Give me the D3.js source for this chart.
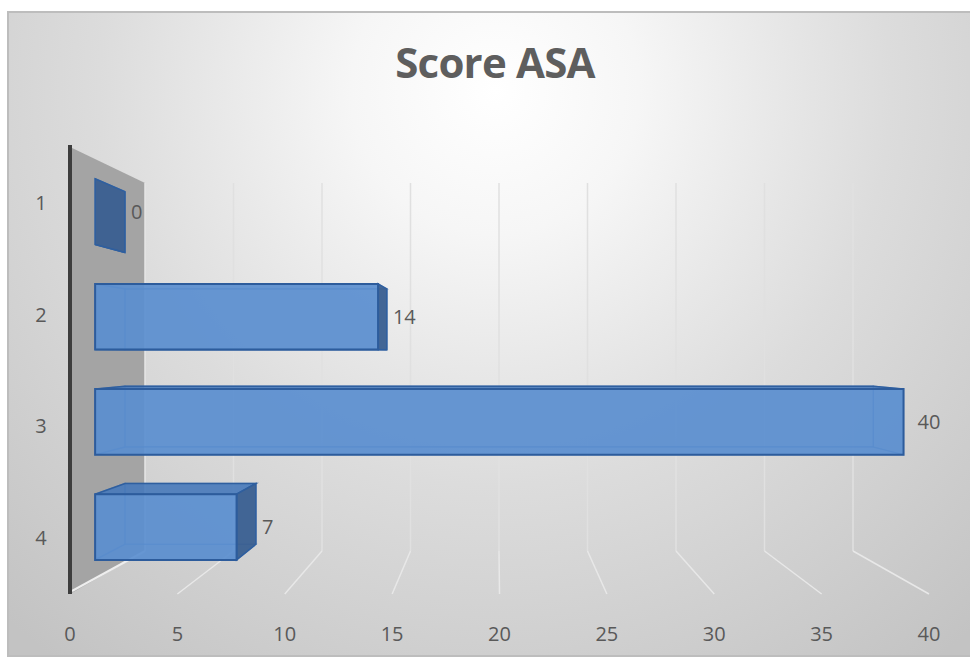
<!DOCTYPE html>
<html>
<head>
<meta charset="utf-8">
<script src="https://cdn.jsdelivr.net/npm/d3@7"></script>
<style>
  html, body { margin: 0; padding: 0; background: #ffffff; }
  svg { display: block; }
  text { font-family: "Open Sans", "Liberation Sans", sans-serif; }
</style>
</head>
<body>
<svg id="chart" width="970" height="658"></svg>
<script>
// ---- data ----
const title = "Score ASA";
const categories = ["1", "2", "3", "4"];
const values = [0, 14, 40, 7];
const valueTicks = [0, 5, 10, 15, 20, 25, 30, 35, 40];
const valueMax = 40;

const svg = d3.select("#chart");
const W = 970, H = 658;

// background gradient
const defs = svg.append("defs");
const rg = defs.append("radialGradient").attr("id", "bg")
  .attr("gradientUnits", "userSpaceOnUse")
  .attr("cx", 495).attr("cy", 90).attr("r", 720);
rg.append("stop").attr("offset", "0%").attr("stop-color", "#ffffff");
rg.append("stop").attr("offset", "20%").attr("stop-color", "#f6f6f6");
rg.append("stop").attr("offset", "55%").attr("stop-color", "#dcdcdc");
rg.append("stop").attr("offset", "100%").attr("stop-color", "#c3c3c3");

svg.append("rect").attr("x", 0).attr("y", 0).attr("width", W).attr("height", H).attr("fill", "#ffffff");
svg.append("rect").attr("x", 8).attr("y", 12).attr("width", 972).attr("height", 644)
  .attr("fill", "url(#bg)").attr("stroke", "#bdbdbd").attr("stroke-width", 2);

// title
svg.append("text").attr("x", 495).attr("y", 78).attr("text-anchor", "middle")
  .attr("font-size", 42).attr("font-weight", "bold").attr("fill", "#5e5e5e")
  .attr("letter-spacing", -0.8)
  .text(title);

// ---- 3D projection: front plane (t=0) and back plane (t=1) ----
const xFront = d3.scaleLinear().domain([0, valueMax]).range([70, 929]);
const xBack = d3.scaleLinear().domain([0, valueMax]).range([145, 853]);
const yFront = d3.scaleLinear().domain([0, 1]).range([147, 594]);
const yBack = d3.scaleLinear().domain([0, 1]).range([183, 551]);
const band = d3.scaleBand().domain(categories).range([0, 1])
  .paddingInner(0.375).paddingOuter(0.1875);
const P = (v, c, t) => [
  xFront(v) + (xBack(v) - xFront(v)) * t,
  yFront(c) + (yBack(c) - yFront(c)) * t
];
const poly = pts => "M" + pts.map(p => p.join(",")).join("L") + "Z";

// left side wall
svg.append("path")
  .attr("d", poly([P(0, 0, 0), P(0, 0, 1), P(0, 1, 1), P(0, 1, 0)]))
  .attr("fill", "#a4a4a4");
svg.append("line")
  .attr("x1", P(0, 0, 1)[0]).attr("y1", P(0, 0, 1)[1])
  .attr("x2", P(0, 1, 1)[0]).attr("y2", P(0, 1, 1)[1])
  .attr("stroke", "#e6e6e6").attr("stroke-width", 1.5);
svg.append("line")
  .attr("x1", P(0, 1, 1)[0]).attr("y1", P(0, 1, 1)[1])
  .attr("x2", P(0, 1, 0)[0] + 2).attr("y2", P(0, 1, 0)[1] - 3)
  .attr("stroke", "#eeeeee").attr("stroke-width", 2);

// back wall gridlines and floor gridlines
const grid = svg.append("g");
valueTicks.filter(v => v > 0).forEach(v => {
  const a = P(v, 0, 1), b = P(v, 1, 1), c = P(v, 1, 0);
  grid.append("line").attr("x1", a[0]).attr("y1", a[1]).attr("x2", b[0]).attr("y2", b[1])
    .attr("stroke", "#e0e0e0").attr("stroke-width", 1.5);
  grid.append("line").attr("x1", b[0]).attr("y1", b[1]).attr("x2", c[0]).attr("y2", c[1])
    .attr("stroke", "#e8e8e8").attr("stroke-width", 1.5);
});

// dark front-left axis edge
svg.append("line")
  .attr("x1", P(0, 0, 0)[0]).attr("y1", P(0, 0, 0)[1] - 2)
  .attr("x2", P(0, 1, 0)[0]).attr("y2", P(0, 1, 0)[1])
  .attr("stroke", "#3d3d3d").attr("stroke-width", 4);

// ---- bars ----
const t1 = 0.335, t2 = 0.733;
const bars = svg.append("g");
categories.forEach((cat, i) => {
  const v = values[i];
  const c0 = band(cat), c1 = c0 + band.bandwidth();
  const faces = {
    back: [P(0, c0, t2), P(v, c0, t2), P(v, c1, t2), P(0, c1, t2)],
    top: [P(0, c0, t1), P(v, c0, t1), P(v, c0, t2), P(0, c0, t2)],
    bottom: [P(0, c1, t1), P(v, c1, t1), P(v, c1, t2), P(0, c1, t2)],
    left: [P(0, c0, t1), P(0, c0, t2), P(0, c1, t2), P(0, c1, t1)],
    right: [P(v, c0, t1), P(v, c0, t2), P(v, c1, t2), P(v, c1, t1)],
    front: [P(0, c0, t1), P(v, c0, t1), P(v, c1, t1), P(0, c1, t1)]
  };
  const topVisible = P(0, c0, t2)[1] < P(0, c0, t1)[1];
  const bottomVisible = P(0, c1, t2)[1] > P(0, c1, t1)[1];
  const rightVisible = P(v, c0, t2)[0] > P(v, c0, t1)[0];
  const g = bars.append("g");
  const hidden = ["back"];
  if (!topVisible) hidden.push("top");
  if (!bottomVisible) hidden.push("bottom");
  if (!rightVisible) hidden.push("right");
  hidden.push("left");
  hidden.forEach(k => {
    g.append("path").attr("d", poly(faces[k]))
      .attr("fill", "#4f84c4").attr("fill-opacity", 0.18)
      .attr("stroke", "#3f72b6").attr("stroke-opacity", 0.55).attr("stroke-width", 1.2);
  });
  if (topVisible) g.append("path").attr("d", poly(faces.top))
    .attr("fill", "#4779ba").attr("fill-opacity", 0.88)
    .attr("stroke", "#2f5f9f").attr("stroke-width", 1.5);
  if (bottomVisible) g.append("path").attr("d", poly(faces.bottom))
    .attr("fill", "#4779ba").attr("fill-opacity", 0.88)
    .attr("stroke", "#2f5f9f").attr("stroke-width", 1.5);
  if (rightVisible) g.append("path").attr("d", poly(faces.right))
    .attr("fill", "#395f91").attr("fill-opacity", 0.94)
    .attr("stroke", "#2f5f9f").attr("stroke-width", 1.5);
  if (v > 0) g.append("path").attr("d", poly(faces.front))
    .attr("fill", "#5a8ecf").attr("fill-opacity", 0.9)
    .attr("stroke", "#2d5c9c").attr("stroke-width", 2);

  // data label
  const cm = c0 + band.bandwidth() / 2;
  const lx = Math.max(P(v, cm, t1)[0], P(v, cm, t2)[0]) + (rightVisible ? 6 : 14);
  const ly = P(v, cm, t1)[1];
  svg.append("text").attr("x", lx).attr("y", ly).attr("dy", "0.35em")
    .attr("font-size", 20).attr("fill", "#595959").text(v);
});

// category labels
categories.forEach(cat => {
  const cm = band(cat) + band.bandwidth() / 2;
  svg.append("text").attr("x", 41).attr("y", yFront(cm)).attr("dy", "0.35em")
    .attr("text-anchor", "middle").attr("font-size", 20).attr("fill", "#595959").text(cat);
});

// value tick labels
valueTicks.forEach(v => {
  svg.append("text").attr("x", xFront(v)).attr("y", 634).attr("dy", "0.35em")
    .attr("text-anchor", "middle").attr("font-size", 20).attr("fill", "#595959").text(v);
});
</script>
</body>
</html>
